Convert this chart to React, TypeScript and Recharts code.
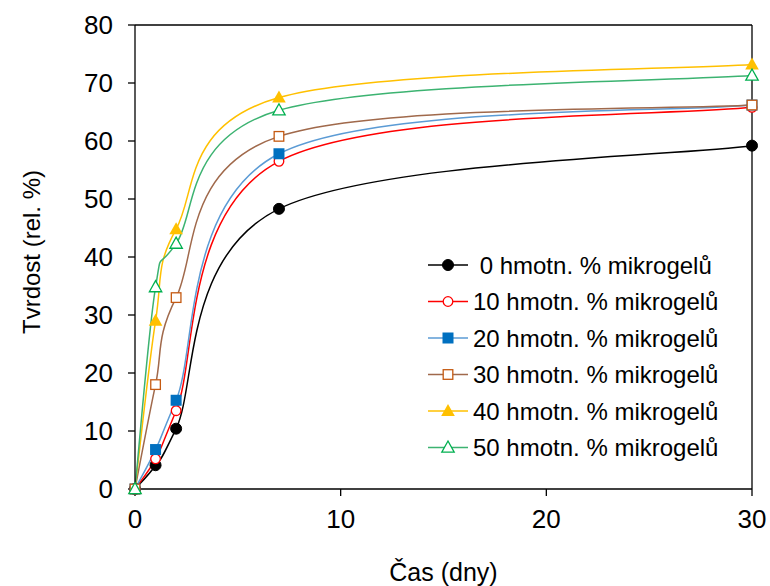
import React from 'react';
import {
  LineChart,
  Line,
  XAxis,
  YAxis,
  ReferenceLine,
  Legend,
} from 'recharts';

// time points (days) and hardness values (rel. %)
const days = [0, 1, 2, 7, 30];
const s0 = [0, 4.1, 10.4, 48.3, 59.2];
const s10 = [0, 5.2, 13.5, 56.5, 65.8];
const s20 = [0, 6.8, 15.3, 57.8, 66.2];
const s30 = [0, 18, 33, 60.8, 66.2];
const s40 = [0, 29, 44.8, 67.5, 73.2];
const s50 = [0, 34.8, 42.3, 65.3, 71.3];

const xTicks = [0, 10, 20, 30];
const yTicks = [0, 10, 20, 30, 40, 50, 60, 70, 80];

const seriesNames = [
  ' 0 hmotn. % mikrogelů',
  '10 hmotn. % mikrogelů',
  '20 hmotn. % mikrogelů',
  '30 hmotn. % mikrogelů',
  '40 hmotn. % mikrogelů',
  '50 hmotn. % mikrogelů',
];

const FONT = 'Arial, "Liberation Sans", sans-serif';

type MarkerKind = 'circle' | 'openCircle' | 'square' | 'openSquare' | 'triangle' | 'openTriangle';

const series = [
  { key: 's0', values: s0, line: '#000000', mark: '#000000', kind: 'circle' as MarkerKind },
  { key: 's10', values: s10, line: '#ff0000', mark: '#ff0000', kind: 'openCircle' as MarkerKind },
  { key: 's20', values: s20, line: '#5b9bd5', mark: '#0070c0', kind: 'square' as MarkerKind },
  { key: 's30', values: s30, line: '#a0694b', mark: '#c55a11', kind: 'openSquare' as MarkerKind },
  { key: 's40', values: s40, line: '#ffc000', mark: '#ffc000', kind: 'triangle' as MarkerKind },
  { key: 's50', values: s50, line: '#3cb371', mark: '#00b050', kind: 'openTriangle' as MarkerKind },
];

const data = days.map((d, i) => {
  const row: any = { day: d };
  series.forEach((s) => (row[s.key] = s.values[i]));
  return row;
});

// Excel-like smoothed line (cardinal bezier, tension 1/6)
const smoothCurve = (context: any) => {
  let pts: number[][] = [];
  return {
    areaStart() {},
    areaEnd() {},
    lineStart() {
      pts = [];
    },
    point(x: number, y: number) {
      pts.push([+x, +y]);
    },
    lineEnd() {
      if (!pts.length) return;
      context.moveTo(pts[0][0], pts[0][1]);
      for (let i = 0; i < pts.length - 1; i++) {
        const p0 = pts[i - 1] || pts[i];
        const p1 = pts[i];
        const p2 = pts[i + 1];
        const p3 = pts[i + 2] || pts[i + 1];
        let c1x = p1[0] + (p2[0] - p0[0]) / 6;
        const c1y = p1[1] + (p2[1] - p0[1]) / 6;
        let c2x = p2[0] - (p3[0] - p1[0]) / 6;
        const c2y = p2[1] - (p3[1] - p1[1]) / 6;
        c1x = Math.min(Math.max(c1x, p1[0]), p2[0]);
        c2x = Math.min(Math.max(c2x, p1[0]), p2[0]);
        context.bezierCurveTo(c1x, c1y, c2x, c2y, p2[0], p2[1]);
      }
    },
  };
};

const Marker = ({ cx, cy, kind, color }: { cx: number; cy: number; kind: MarkerKind; color: string }) => {
  if (cx == null || cy == null) return null;
  switch (kind) {
    case 'circle':
      return <circle cx={cx} cy={cy} r={5.5} fill={color} stroke={color} />;
    case 'openCircle':
      return <circle cx={cx} cy={cy} r={4.8} fill="#fff" stroke={color} strokeWidth={1.3} />;
    case 'square':
      return <rect x={cx - 5.5} y={cy - 5.5} width={11} height={11} fill={color} />;
    case 'openSquare':
      return <rect x={cx - 4.8} y={cy - 4.8} width={9.6} height={9.6} fill="#fff" stroke={color} strokeWidth={1.3} />;
    case 'triangle':
      return <polygon points={`${cx},${cy - 7} ${cx + 6.8},${cy + 5} ${cx - 6.8},${cy + 5}`} fill={color} />;
    case 'openTriangle':
      return (
        <polygon
          points={`${cx},${cy - 6.5} ${cx + 6.2},${cy + 4.6} ${cx - 6.2},${cy + 4.6}`}
          fill="#fff"
          stroke={color}
          strokeWidth={1.3}
        />
      );
  }
  return null;
};

const LegendBox = () => (
  <svg width={320} height={220} style={{ display: 'block' }}>
    {series.map((s, i) => {
      const y = 17 + i * 36.5;
      return (
        <g key={s.key}>
          <line x1={3} x2={43} y1={y} y2={y} stroke={s.line} strokeWidth={1.5} />
          <Marker cx={23} cy={y} kind={s.kind} color={s.mark} />
          <text
            x={48}
            y={y}
            dominantBaseline="central"
            fontFamily={FONT}
            fontSize={24}
            fill="#000"
            style={{ whiteSpace: 'pre' }}
          >
            {seriesNames[i]}
          </text>
        </g>
      );
    })}
  </svg>
);

const App = () => {
  return (
    <div style={{ position: 'absolute', left: 0, top: 0, width: 770, height: 586, background: '#fff' }}>
      <LineChart width={770} height={586} data={data} margin={{ top: 25, right: 18, bottom: 0, left: 0 }}>
        <XAxis
          dataKey="day"
          type="number"
          domain={[0, 30]}
          ticks={xTicks}
          allowDecimals={false}
          height={97}
          stroke="#000"
          strokeWidth={1.3}
          tickSize={7}
          tickMargin={14}
          tick={{ fill: '#000', fontSize: 26, fontFamily: FONT }}
          label={{
            content: ({ viewBox }: any) => (
              <text
                x={viewBox.x + viewBox.width / 2}
                y={viewBox.y + 83}
                textAnchor="middle"
                dominantBaseline="central"
                fontFamily={FONT}
                fontSize={25}
                fill="#000"
              >
                Čas (dny)
              </text>
            ),
          }}
        />
        <YAxis
          type="number"
          domain={[0, 80]}
          ticks={yTicks}
          width={135}
          stroke="#000"
          strokeWidth={1.3}
          tickSize={7}
          tickMargin={15}
          tick={{ fill: '#000', fontSize: 26, fontFamily: FONT }}
          label={{
            content: ({ viewBox }: any) => {
              const x = viewBox.x + 31;
              const y = viewBox.y + viewBox.height / 2 - 5;
              return (
                <text
                  x={x}
                  y={y}
                  transform={`rotate(-90 ${x} ${y})`}
                  textAnchor="middle"
                  dominantBaseline="central"
                  fontFamily={FONT}
                  fontSize={24}
                  fill="#000"
                >
                  Tvrdost (rel. %)
                </text>
              );
            },
          }}
        />
        <ReferenceLine y={80} stroke="#000" strokeWidth={1.3} />
        <ReferenceLine x={30} stroke="#000" strokeWidth={1.3} />
        {series.map((s) => (
          <Line
            key={s.key}
            dataKey={s.key}
            type={smoothCurve as any}
            stroke={s.line}
            strokeWidth={1.5}
            isAnimationActive={false}
            dot={(p: any) => <Marker key={`${s.key}-${p.index}`} cx={p.cx} cy={p.cy} kind={s.kind} color={s.mark} />}
            activeDot={false}
          />
        ))}
        <Legend
          layout="vertical"
          align="center"
          verticalAlign="middle"
          wrapperStyle={{ left: 425, top: 248, width: 320, height: 220 }}
          content={() => <LegendBox />}
        />
      </LineChart>
    </div>
  );
};

export default App;
